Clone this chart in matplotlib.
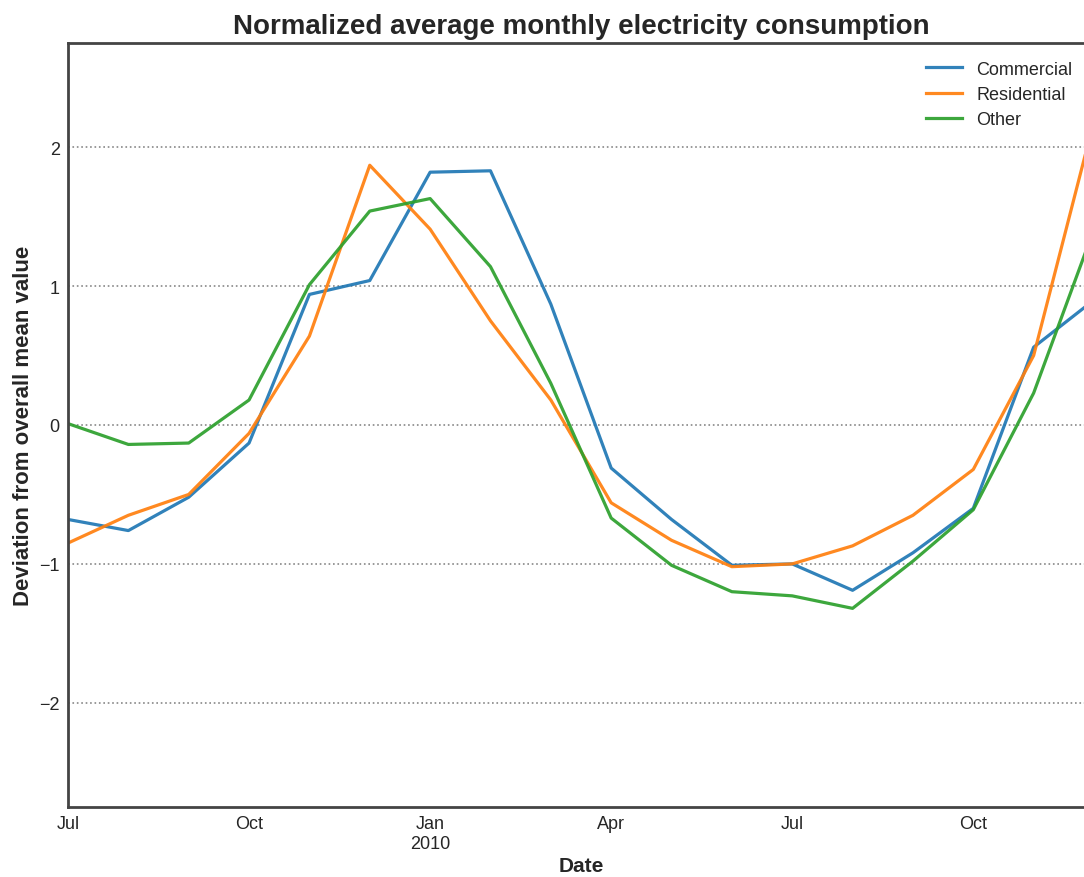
#!/usr/bin/env python3
"""Normalized average monthly electricity consumption, Jul 2009 - Dec 2010."""
import matplotlib
matplotlib.use("Agg")
import matplotlib.pyplot as plt
import pandas as pd

months = pd.period_range("2009-07", "2010-12", freq="M", name="Date")

commercial = [-0.68, -0.76, -0.52, -0.13, 0.94, 1.04, 1.82, 1.83, 0.87, -0.31,
              -0.68, -1.01, -1.00, -1.19, -0.92, -0.60, 0.56, 0.90]
residential = [-0.85, -0.65, -0.50, -0.06, 0.64, 1.87, 1.41, 0.75, 0.18, -0.56,
               -0.83, -1.02, -1.00, -0.87, -0.65, -0.32, 0.50, 2.19]
other = [0.01, -0.14, -0.13, 0.18, 1.01, 1.54, 1.63, 1.14, 0.30, -0.67,
         -1.01, -1.20, -1.23, -1.32, -0.98, -0.61, 0.23, 1.41]

df = pd.DataFrame({"Commercial": commercial, "Residential": residential,
                   "Other": other}, index=months)

plt.rcParams["font.family"] = ["Liberation Sans", "DejaVu Sans"]
plt.rcParams["axes.edgecolor"] = "#444444"
plt.rcParams["text.color"] = "#262626"
plt.rcParams["axes.labelcolor"] = "#262626"
plt.rcParams["xtick.color"] = "#262626"
plt.rcParams["ytick.color"] = "#262626"

fig = plt.figure(figsize=(10.84, 8.78), dpi=100)
ax = fig.add_axes([68 / 1084, 70 / 878, 1026 / 1084, 764 / 878])
df.plot(ax=ax, linewidth=2.3, alpha=0.92, color=["#1f77b4", "#ff7f0e", "#2ca02c"])

ax.set_ylim(-2.75, 2.75)
ax.set_yticks([-2, -1, 0, 1, 2])
ax.yaxis.grid(True, linestyle=":", color="#888888", linewidth=1.2)
ax.xaxis.grid(False)
ax.tick_params(axis="both", which="both", length=0, labelsize=13, pad=6)
for s in ax.spines.values():
    s.set_linewidth(2)

ax.set_xlabel("Date", fontsize=15, fontweight="bold", labelpad=3)
ax.set_ylabel("Deviation from overall mean value", fontsize=16, fontweight="bold",
              labelpad=4)
ax.set_title("Normalized average monthly electricity consumption",
             fontsize=20, fontweight="bold", pad=7)
ax.legend(loc="upper right", frameon=False, fontsize=13, labelspacing=0.45,
          bbox_to_anchor=(0.995, 0.998))

fig.savefig("out.png", dpi=100)
